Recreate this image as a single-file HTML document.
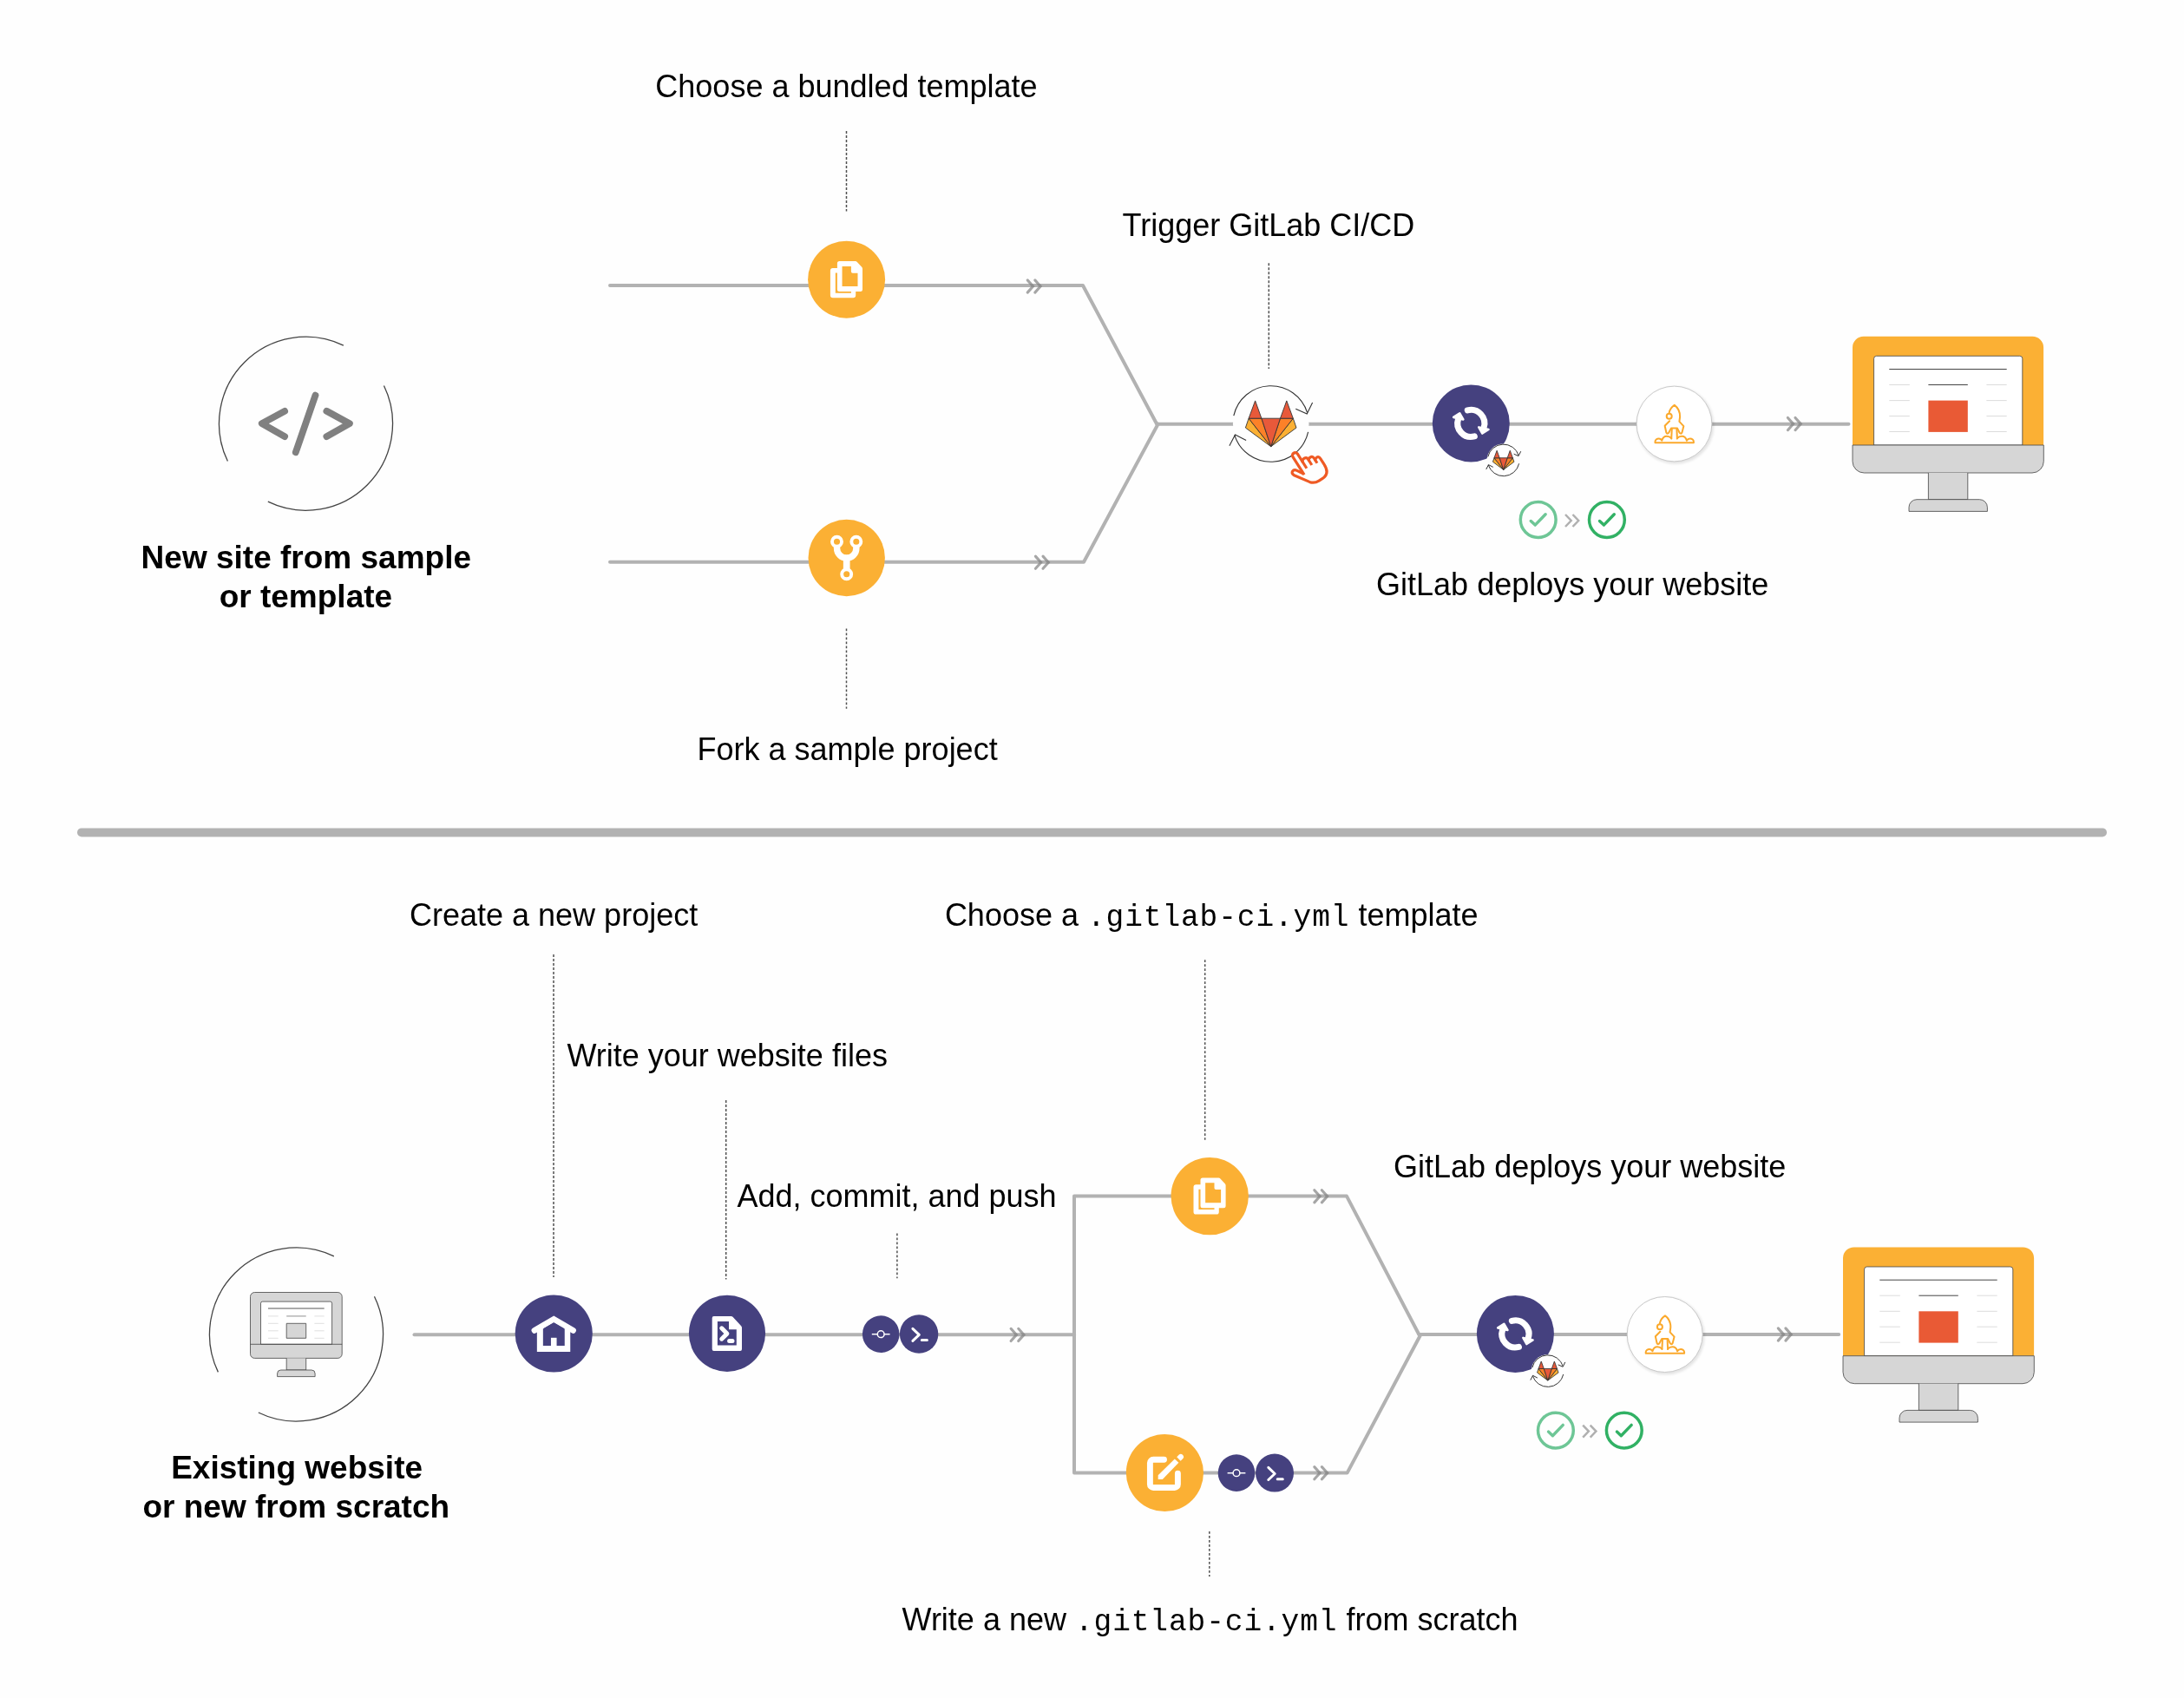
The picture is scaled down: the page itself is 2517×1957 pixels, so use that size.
<!DOCTYPE html>
<html><head><meta charset="utf-8"><title>GitLab Pages</title>
<style>html,body{margin:0;padding:0;background:#fefefe}body{width:2517px;height:1957px;overflow:hidden}svg{display:block}text{font-family:"Liberation Sans",sans-serif;fill:#000}.m{font-family:"Liberation Mono",monospace;font-size:34.5px;letter-spacing:0.9px}</style>
</head><body>
<svg width="2517" height="1957" viewBox="0 0 2517 1957">
<defs><filter id="blur" x="-20%" y="-20%" width="140%" height="140%"><feGaussianBlur stdDeviation="1.6"/></filter></defs>
<rect width="2517" height="1957" fill="#fefefe"/>
<line x1="94" y1="959.4" x2="2423" y2="959.4" stroke="#b2b2b2" stroke-width="10" stroke-linecap="round"/>
<g fill="none" stroke="#b2b2b2" stroke-width="4" stroke-linecap="round" stroke-linejoin="round">
<path d="M703,329 H1248 L1333.2,488.7"/>
<path d="M703,647.8 H1249 L1334.6,488.7"/>
<path d="M1333.5,488.7 H2130.5"/>
</g>
<g fill="none" stroke="#808080" stroke-opacity="0.7" stroke-width="3.1" stroke-linecap="round" stroke-linejoin="miter"><path d="M1192.8,322.9 L1199.1,330.0 L1192.8,337.1"/><path d="M1184.2,322.9 L1190.5,330.0 L1184.2,337.1"/></g>
<g fill="none" stroke="#808080" stroke-opacity="0.7" stroke-width="3.1" stroke-linecap="round" stroke-linejoin="miter"><path d="M1202.0,641.1 L1208.3,648.2 L1202.0,655.3"/><path d="M1193.4,641.1 L1199.7,648.2 L1193.4,655.3"/></g>
<g fill="none" stroke="#808080" stroke-opacity="0.7" stroke-width="3.1" stroke-linecap="round" stroke-linejoin="miter"><path d="M2069.0,481.5 L2075.3,488.6 L2069.0,495.7"/><path d="M2060.4,481.5 L2066.7,488.6 L2060.4,495.7"/></g>
<g transform="translate(975.6,322.2)"><circle r="44.5" fill="#fbb034"/><path fill="#fff" fill-rule="evenodd" d="M-15.8,-13.3 H7.7 a2.9,2.9 0 0 1 2.9,2.9 V18.1 a2.9,2.9 0 0 1 -2.9,2.9 H-15.8 a2.9,2.9 0 0 1 -2.9,-2.9 V-10.4 a2.9,2.9 0 0 1 2.9,-2.9 Z M-12.8,-7.8 H5.3 V15.5 H-12.8 Z"/><path fill="#fbb034" d="M-6,-16.3 H13.9 V8.7 H-6 Z"/><path fill="#fff" fill-rule="evenodd" d="M-8.2,-21.1 H10.2 Q11.4,-21.1 12.2,-20.2 L17.6,-14.4 Q18.4,-13.5 18.4,-12.3 V11.2 a2.5,2.5 0 0 1 -2.5,2.5 H-8.2 a2.5,2.5 0 0 1 -2.5,-2.5 V-18.6 a2.5,2.5 0 0 1 2.5,-2.5 Z M-5.05,-15.3 H5.3 V-9.3 Q5.3,-7.5 7.1,-7.5 H12.9 V7.7 H-5.05 Z"/></g>
<g transform="translate(975.7,643)"><circle r="44.2" fill="#fbb034"/><g fill="none" stroke="#fff" stroke-width="7.4"><path d="M-11.15,-16 V-11.1 A11.15,11.15 0 0 0 11.15,-11.1 V-16"/><path d="M0,-1 V14" stroke-width="7.7"/></g><circle cx="-11.2" cy="-18.8" r="5.5" fill="#fbb034" stroke="#fff" stroke-width="3.9"/><circle cx="11.1" cy="-18.8" r="5.5" fill="#fbb034" stroke="#fff" stroke-width="3.9"/><circle cx="0" cy="18.7" r="5.5" fill="#fbb034" stroke="#fff" stroke-width="3.9"/></g>
<g transform="translate(1464.7,488.5) scale(1.0)"><circle r="43.8" fill="#fefefe"/><g fill="none" stroke="#333" stroke-width="1.10"><path d="M-42.9,-9.3 A43.9,43.9 0 0 1 41.9,-12.9"/><path d="M28.55,-17.15 L41.55,-11.5 L47.9,-24.4"/><path d="M42.9,9.3 A43.9,43.9 0 0 1 -41.9,12.9"/><path d="M-28.55,19.1 L-41.2,12.5 L-47.8,25.25"/></g></g>
<g transform="translate(1464.7,488.5) scale(1.0)" stroke="#333" stroke-width="0.90" stroke-linejoin="round"><path fill="#fbb034" d="M-25.6,-6.3 L-29.3,4.5 L0,26.2 Z"/><path fill="#fbb034" d="M25.6,-6.3 L29.3,4.5 L0,26.2 Z"/><path fill="#fc8128" d="M-25.6,-6.3 L-10.8,-6.3 L0,26.2 Z"/><path fill="#fc8128" d="M25.6,-6.3 L10.8,-6.3 L0,26.2 Z"/><path fill="#e8593a" d="M-10.8,-6.3 L10.8,-6.3 L0,26.2 Z"/><path fill="#e8593a" d="M-18.1,-26.6 L-25.6,-6.3 L-10.8,-6.3 Z"/><path fill="#e8593a" d="M18.1,-26.6 L25.6,-6.3 L10.8,-6.3 Z"/></g>
<g transform="translate(1492.7,524.9) rotate(-32.4)" fill="none" stroke="#ef5a24" stroke-width="3.2" stroke-linejoin="round"><path d="M-3.2,24.4 V0 A3.2,3.2 0 0 1 3.2,0 V19.6"/><path d="M3.2,11.4 Q3.2,8.4 6.7,8.4 Q10.2,8.4 10.2,11.6 V19.6"/><path d="M10.2,14 Q10.2,11.1 13.4,11.1 Q16.6,11.1 16.6,14.4 V21"/><path d="M16.6,18 Q16.6,15.2 19.6,15.2 Q22.6,15.2 22.6,19 V26.5 Q22.6,39.3 12.5,39.3 H7.5 Q1,39.3 -2.4,34.6 L-13.3,18.6 Q-15.2,15.3 -12.3,13.7 Q-9.6,12.4 -7.6,15.8 L-3.2,23"/></g>
<g transform="translate(1695.3,487.9)"><circle r="44.5" fill="#45417f"/><g fill="none" stroke="#fff" stroke-width="7.1" stroke-linecap="round"><path d="M-4.02,-15.02 A15.55,15.55 0 0 1 14.70,5.06"/><path d="M4.02,15.02 A15.55,15.55 0 0 1 -14.70,-5.06"/></g><g fill="#fff" stroke="#fff" stroke-width="2.6" stroke-linejoin="round"><path d="M8.98,4.52 L20.14,7.02 L13.04,11.62 Z"/><path d="M-8.98,-4.52 L-20.14,-7.02 L-13.04,-11.62 Z"/></g></g>
<g transform="translate(1732.7,530.4) scale(0.418)"><circle r="45.5" fill="#fefefe"/><g fill="none" stroke="#333" stroke-width="2.39"><path d="M-42.9,-9.3 A43.9,43.9 0 0 1 41.9,-12.9"/><path d="M28.55,-17.15 L41.55,-11.5 L47.9,-24.4"/><path d="M42.9,9.3 A43.9,43.9 0 0 1 -41.9,12.9"/><path d="M-28.55,19.1 L-41.2,12.5 L-47.8,25.25"/></g></g>
<g transform="translate(1732.7,530.4) scale(0.418)" stroke="#333" stroke-width="2.03" stroke-linejoin="round"><path fill="#fbb034" d="M-25.6,-6.3 L-29.3,4.5 L0,26.2 Z"/><path fill="#fbb034" d="M25.6,-6.3 L29.3,4.5 L0,26.2 Z"/><path fill="#fc8128" d="M-25.6,-6.3 L-10.8,-6.3 L0,26.2 Z"/><path fill="#fc8128" d="M25.6,-6.3 L10.8,-6.3 L0,26.2 Z"/><path fill="#e8593a" d="M-10.8,-6.3 L10.8,-6.3 L0,26.2 Z"/><path fill="#e8593a" d="M-18.1,-26.6 L-25.6,-6.3 L-10.8,-6.3 Z"/><path fill="#e8593a" d="M18.1,-26.6 L25.6,-6.3 L10.8,-6.3 Z"/></g>
<g transform="translate(1929.5,488.5)"><circle r="44.6" cx="1.2" cy="1.6" fill="#000" opacity="0.10" filter="url(#blur)"/><circle r="43.4" fill="#fff" stroke="#c9c9c9" stroke-width="1"/><g fill="none" stroke="#fba92c" stroke-width="2" stroke-linecap="round" stroke-linejoin="round"><path d="M-5.8,-12.9 C-5.2,-17 -2.5,-19.6 0.25,-21.6 C4,-18.8 6.8,-14 6.6,-8 L5.9,-2.65 L10.85,2.65 L8.9,10.2 Q8.4,11.4 7.2,11.1 Q6.4,11 6,10 L3.6,5.1 H-3.6 L-6.2,10 Q-6.6,11 -7.4,11.1 Q-8.6,11.4 -9.1,10.2 L-10.85,2.3 L-5.4,-3.2"/><circle cx="-5.8" cy="-8.8" r="3"/><path d="M-2.7,5.5 L-3.3,17.1"/><path d="M2.9,5.5 L3.4,17.1"/><path d="M-3.3,16.6 C-5,14.6 -7,14.2 -8.6,14.2 C-11.5,14.2 -13.5,16.5 -14.2,19.3 C-15,17.6 -16.3,17 -17.8,17 C-20,17 -22,18.8 -22,20.5 V21.7 H22.4 V20.5 C22.4,18.8 20.5,17 18.3,17 C16.7,17 15.3,17.6 14.4,19.3 C13.7,16.5 11.7,14.2 8.7,14.2 C7.1,14.2 5.1,14.6 3.4,16.6"/></g></g>
<g transform="translate(2135,387.7)" stroke-linejoin="round"><path fill="#fbb034" d="M0,125.3 V12.7 a12.7,12.7 0 0 1 12.7,-12.7 H207.4 a12.7,12.7 0 0 1 12.7,12.7 V125.3 Z"/><path fill="#fff" stroke="#444" stroke-width="0.8" d="M24.6,125.3 V25.6 a3,3 0 0 1 3,-3 H192.8 a3,3 0 0 1 3,3 V125.3 Z"/><path fill="#d6d6d6" stroke="#444" stroke-width="0.8" d="M0,125.3 H220.3 V144 a13.3,13.3 0 0 1 -13.3,13.3 H13.3 a13.3,13.3 0 0 1 -13.3,-13.3 Z"/><path fill="#d6d6d6" stroke="#444" stroke-width="0.8" d="M87.4,157.3 V188 H132.8 V157.3"/><path fill="#d6d6d6" stroke="#444" stroke-width="0.8" d="M65,201.7 V197 a9,9 0 0 1 9,-9 H146.4 a9,9 0 0 1 9,9 V201.7 Z"/><path stroke="#444" stroke-width="1" d="M42.3,37.8 H177.7 M87.4,55.8 H132.8"/><path stroke="#d8d8d8" stroke-width="0.9" d="M42.3,55.8 H65.8 M154.4,55.8 H177.7 M42.3,73.9 H65.8 M154.4,73.9 H177.7 M42.3,91.8 H65.8 M154.4,91.8 H177.7 M42.3,109.8 H65.8 M154.4,109.8 H177.7 "/><rect x="87.4" y="73.9" width="45.4" height="36.3" fill="#e95a35"/></g>
<g transform="translate(1772.7,599)" fill="none" stroke="#6ec696" stroke-linecap="round" stroke-linejoin="round"><circle r="20.4" stroke-width="3.5"/><path stroke-width="3.4" d="M-8.4,1.5 L-3.5,6.1 L8.4,-6.2"/></g>
<g fill="none" stroke="#b0b0b0" stroke-width="2.5" stroke-linejoin="miter"><path d="M1804.0,593.0 L1810.7,600.0 L1804.0,607.0"/><path d="M1812.5,593.0 L1819.2,600.0 L1812.5,607.0"/></g>
<g transform="translate(1851.9,599)" fill="none" stroke="#31b164" stroke-linecap="round" stroke-linejoin="round"><circle r="20.4" stroke-width="3.5"/><path stroke-width="3.4" d="M-8.4,1.5 L-3.5,6.1 L8.4,-6.2"/></g>
<g transform="translate(352.5,488.2)" fill="none" stroke="#444" stroke-width="1.3"><path d="M43.37,-90.11 A100,100 0 0 0 -90.11,43.37"/><path d="M89.96,-43.68 A100,100 0 0 1 -43.68,89.96"/></g>
<g fill="none" stroke="#808080" stroke-width="7.8" stroke-linecap="round" stroke-linejoin="round"><path d="M328.1,473.8 L301.8,488.2 L328.1,503.1"/><path d="M363.5,455.6 L340.8,521.3"/><path d="M376.4,473.8 L402.9,488.2 L376.4,503.1"/></g>
<line x1="975.5" y1="151" x2="975.5" y2="243.6" stroke="#505050" stroke-width="1.5" stroke-dasharray="2.9 2.1"/>
<line x1="975.5" y1="724.4" x2="975.5" y2="816.7" stroke="#505050" stroke-width="1.5" stroke-dasharray="2.9 2.1"/>
<line x1="1462.3" y1="303.3" x2="1462.3" y2="425.1" stroke="#505050" stroke-width="1.5" stroke-dasharray="2.9 2.1"/>
<text opacity="0.999" x="975.5" y="111.6" font-size="36" text-anchor="middle">Choose a bundled template</text>
<text opacity="0.999" x="1461.9" y="271.7" font-size="36" text-anchor="middle">Trigger GitLab CI/CD</text>
<text opacity="0.999" x="1812.2" y="686.1" font-size="36" text-anchor="middle">GitLab deploys your website</text>
<text opacity="0.999" x="976.6" y="876.4" font-size="36" text-anchor="middle">Fork a sample project</text>
<text opacity="0.999" x="352.8" y="655.2" font-size="37" text-anchor="middle" font-weight="bold">New site from sample</text>
<text opacity="0.999" x="352.4" y="699.8" font-size="37" text-anchor="middle" font-weight="bold">or template</text>
<g fill="none" stroke="#b2b2b2" stroke-width="4" stroke-linecap="round" stroke-linejoin="round">
<path d="M477.5,1538.2 H1238"/>
<path d="M1635.3,1538 L1552,1378.6 H1238 V1697.4 H1552.7 L1637.4,1538"/>
<path d="M1635.5,1538 H2119.2"/>
</g>
<g fill="none" stroke="#808080" stroke-opacity="0.7" stroke-width="3.1" stroke-linecap="round" stroke-linejoin="miter"><path d="M1173.7,1531.3 L1180.0,1538.4 L1173.7,1545.5"/><path d="M1165.1,1531.3 L1171.4,1538.4 L1165.1,1545.5"/></g>
<g fill="none" stroke="#808080" stroke-opacity="0.7" stroke-width="3.1" stroke-linecap="round" stroke-linejoin="miter"><path d="M1523.4,1371.7 L1529.7,1378.8 L1523.4,1385.9"/><path d="M1514.8,1371.7 L1521.1,1378.8 L1514.8,1385.9"/></g>
<g fill="none" stroke="#808080" stroke-opacity="0.7" stroke-width="3.1" stroke-linecap="round" stroke-linejoin="miter"><path d="M1523.4,1690.6 L1529.7,1697.7 L1523.4,1704.8"/><path d="M1514.8,1690.6 L1521.1,1697.7 L1514.8,1704.8"/></g>
<g fill="none" stroke="#808080" stroke-opacity="0.7" stroke-width="3.1" stroke-linecap="round" stroke-linejoin="miter"><path d="M2057.9,1530.9 L2064.2,1538.0 L2057.9,1545.1"/><path d="M2049.3,1530.9 L2055.6,1538.0 L2049.3,1545.1"/></g>
<g transform="translate(341.5,1538)" fill="none" stroke="#444" stroke-width="1.3"><path d="M43.37,-90.11 A100,100 0 0 0 -90.11,43.37"/><path d="M89.96,-43.68 A100,100 0 0 1 -43.68,89.96"/></g>
<g transform="translate(341.5,1538)" stroke="#444" stroke-width="0.8" stroke-linejoin="round"><rect x="-53" y="-48.5" width="105.7" height="75.9" rx="5" fill="#d6d6d6"/><path fill="#fff" d="M-41,11.3 V-35.9 a2,2 0 0 1 2,-2 H39.1 a2,2 0 0 1 2,2 V11.3 Z"/><path fill="none" d="M-53,11.3 H52.7"/><path fill="#d6d6d6" d="M-11.3,27.4 V41 H11.2 V27.4"/><path fill="#d6d6d6" d="M-21.9,48.6 V45 a4,4 0 0 1 4,-4 H17.6 a4,4 0 0 1 4,4 V48.6 Z"/><path fill="none" stroke-width="0.9" d="M-32.5,-30 H32.2"/><path fill="none" stroke="#999" stroke-width="1.1" d="M-11.3,-21.1 H11.2"/><path fill="none" stroke="#d8d8d8" stroke-width="0.8" d="M-32.5,-21.1 H-20.8 M20.9,-21.1 H32.2 M-32.5,-12.7 H-20.8 M20.9,-12.7 H32.2 M-32.5,-4.2 H-20.8 M20.9,-4.2 H32.2 M-32.5,4.3 H-20.8 M20.9,4.3 H32.2 "/><rect x="-11.3" y="-12.7" width="22.5" height="17" fill="#d6d6d6"/></g>
<g transform="translate(638.25,1537)"><circle r="44.6" fill="#45417f"/><path fill="#fff" d="M-19.4,-6 H19 V20.95 H-19.4 Z"/><path fill="none" stroke="#fff" stroke-width="6.8" stroke-linecap="round" stroke-linejoin="miter" d="M-22.3,-3.6 L0,-16.6 L22.3,-3.6"/><path fill="#45417f" d="M-12.4,14.1 V-5.44 L0,-12.67 L12.5,-5.38 V14.1 Z"/><rect x="-3.3" y="4.8" width="6.6" height="9.8" fill="#fff"/></g>
<g transform="translate(838,1536.8)"><circle r="44.1" fill="#45417f"/><path fill="#fff" fill-rule="evenodd" d="M-15.3,-19.9 H4.6 Q5.7,-19.9 6.5,-19.1 L16.2,-8.6 Q17,-7.7 17,-6.6 V18.2 a2,2 0 0 1 -2,2 H-15.3 a2,2 0 0 1 -2,-2 V-17.9 a2,2 0 0 1 2,-2 Z M-11.1,-13.8 H2.05 V-4.5 H10.8 V13.8 H-11.1 Z"/><path fill="none" stroke="#fff" stroke-width="5" stroke-linecap="round" stroke-linejoin="round" d="M-6.3,-6 L-0.15,0.3 L-6.3,6.4 M2.6,8.6 H6"/></g>
<g transform="translate(1015.2,1537.6)"><circle r="21.3" fill="#45417f"/><path stroke="#fff" stroke-width="1.5" d="M-10.4,0.1 H10.4"/><circle cy="0.1" r="3.9" fill="#45417f" stroke="#fff" stroke-width="1.5"/></g>
<g transform="translate(1059.1,1537.5)"><circle r="22.2" fill="#45417f"/><path fill="none" stroke="#fff" stroke-width="3" stroke-linecap="round" stroke-linejoin="round" d="M-7.2,-6.2 L0.2,0.9 L-7.2,7.9 M3.2,7.1 H9.3"/></g>
<g transform="translate(1394.2,1378.6)"><circle r="44.7" fill="#fbb034"/><path fill="#fff" fill-rule="evenodd" d="M-15.8,-13.3 H7.7 a2.9,2.9 0 0 1 2.9,2.9 V18.1 a2.9,2.9 0 0 1 -2.9,2.9 H-15.8 a2.9,2.9 0 0 1 -2.9,-2.9 V-10.4 a2.9,2.9 0 0 1 2.9,-2.9 Z M-12.8,-7.8 H5.3 V15.5 H-12.8 Z"/><path fill="#fbb034" d="M-6,-16.3 H13.9 V8.7 H-6 Z"/><path fill="#fff" fill-rule="evenodd" d="M-8.2,-21.1 H10.2 Q11.4,-21.1 12.2,-20.2 L17.6,-14.4 Q18.4,-13.5 18.4,-12.3 V11.2 a2.5,2.5 0 0 1 -2.5,2.5 H-8.2 a2.5,2.5 0 0 1 -2.5,-2.5 V-18.6 a2.5,2.5 0 0 1 2.5,-2.5 Z M-5.05,-15.3 H5.3 V-9.3 Q5.3,-7.5 7.1,-7.5 H12.9 V7.7 H-5.05 Z"/></g>
<g transform="translate(1342.4,1697.5)"><circle r="44.6" fill="#fbb034"/><path fill="none" stroke="#fff" stroke-width="6.9" stroke-linecap="round" d="M-0.9,-15.2 H-13.2 a3.8,3.8 0 0 0 -3.8,3.8 V13.2 a3.8,3.8 0 0 0 3.8,3.8 H11.2 a3.8,3.8 0 0 0 3.8,-3.8 V0.7"/><path fill="#fff" d="M-7.7,2.85 L11.4,-16.1 L16,-11.7 L-2.6,7.4 H-7.7 Z"/><path fill="#fff" d="M13.8,-18.3 L16.2,-20.7 A3.15,3.15 0 0 1 20.6,-20.7 L20.7,-20.6 A3.15,3.15 0 0 1 20.7,-16.2 L18.2,-13.7 Z"/></g>
<g transform="translate(1425,1697.6)"><circle r="21.3" fill="#45417f"/><path stroke="#fff" stroke-width="1.5" d="M-10.4,0.1 H10.4"/><circle cy="0.1" r="3.9" fill="#45417f" stroke="#fff" stroke-width="1.5"/></g>
<g transform="translate(1469,1697.6)"><circle r="22" fill="#45417f"/><path fill="none" stroke="#fff" stroke-width="3" stroke-linecap="round" stroke-linejoin="round" d="M-7.2,-6.2 L0.2,0.9 L-7.2,7.9 M3.2,7.1 H9.3"/></g>
<g transform="translate(1746.4,1537.4)"><circle r="44.5" fill="#45417f"/><g fill="none" stroke="#fff" stroke-width="7.1" stroke-linecap="round"><path d="M-4.02,-15.02 A15.55,15.55 0 0 1 14.70,5.06"/><path d="M4.02,15.02 A15.55,15.55 0 0 1 -14.70,-5.06"/></g><g fill="#fff" stroke="#fff" stroke-width="2.6" stroke-linejoin="round"><path d="M8.98,4.52 L20.14,7.02 L13.04,11.62 Z"/><path d="M-8.98,-4.52 L-20.14,-7.02 L-13.04,-11.62 Z"/></g></g>
<g transform="translate(1783.8,1580.1) scale(0.418)"><circle r="45.5" fill="#fefefe"/><g fill="none" stroke="#333" stroke-width="2.39"><path d="M-42.9,-9.3 A43.9,43.9 0 0 1 41.9,-12.9"/><path d="M28.55,-17.15 L41.55,-11.5 L47.9,-24.4"/><path d="M42.9,9.3 A43.9,43.9 0 0 1 -41.9,12.9"/><path d="M-28.55,19.1 L-41.2,12.5 L-47.8,25.25"/></g></g>
<g transform="translate(1783.8,1580.1) scale(0.418)" stroke="#333" stroke-width="2.03" stroke-linejoin="round"><path fill="#fbb034" d="M-25.6,-6.3 L-29.3,4.5 L0,26.2 Z"/><path fill="#fbb034" d="M25.6,-6.3 L29.3,4.5 L0,26.2 Z"/><path fill="#fc8128" d="M-25.6,-6.3 L-10.8,-6.3 L0,26.2 Z"/><path fill="#fc8128" d="M25.6,-6.3 L10.8,-6.3 L0,26.2 Z"/><path fill="#e8593a" d="M-10.8,-6.3 L10.8,-6.3 L0,26.2 Z"/><path fill="#e8593a" d="M-18.1,-26.6 L-25.6,-6.3 L-10.8,-6.3 Z"/><path fill="#e8593a" d="M18.1,-26.6 L25.6,-6.3 L10.8,-6.3 Z"/></g>
<g transform="translate(1918.7,1538)"><circle r="44.7" cx="1.2" cy="1.6" fill="#000" opacity="0.10" filter="url(#blur)"/><circle r="43.5" fill="#fff" stroke="#c9c9c9" stroke-width="1"/><g fill="none" stroke="#fba92c" stroke-width="2" stroke-linecap="round" stroke-linejoin="round"><path d="M-5.8,-12.9 C-5.2,-17 -2.5,-19.6 0.25,-21.6 C4,-18.8 6.8,-14 6.6,-8 L5.9,-2.65 L10.85,2.65 L8.9,10.2 Q8.4,11.4 7.2,11.1 Q6.4,11 6,10 L3.6,5.1 H-3.6 L-6.2,10 Q-6.6,11 -7.4,11.1 Q-8.6,11.4 -9.1,10.2 L-10.85,2.3 L-5.4,-3.2"/><circle cx="-5.8" cy="-8.8" r="3"/><path d="M-2.7,5.5 L-3.3,17.1"/><path d="M2.9,5.5 L3.4,17.1"/><path d="M-3.3,16.6 C-5,14.6 -7,14.2 -8.6,14.2 C-11.5,14.2 -13.5,16.5 -14.2,19.3 C-15,17.6 -16.3,17 -17.8,17 C-20,17 -22,18.8 -22,20.5 V21.7 H22.4 V20.5 C22.4,18.8 20.5,17 18.3,17 C16.7,17 15.3,17.6 14.4,19.3 C13.7,16.5 11.7,14.2 8.7,14.2 C7.1,14.2 5.1,14.6 3.4,16.6"/></g></g>
<g transform="translate(2124,1437.4)" stroke-linejoin="round"><path fill="#fbb034" d="M0,125.3 V12.7 a12.7,12.7 0 0 1 12.7,-12.7 H207.4 a12.7,12.7 0 0 1 12.7,12.7 V125.3 Z"/><path fill="#fff" stroke="#444" stroke-width="0.8" d="M24.6,125.3 V25.6 a3,3 0 0 1 3,-3 H192.8 a3,3 0 0 1 3,3 V125.3 Z"/><path fill="#d6d6d6" stroke="#444" stroke-width="0.8" d="M0,125.3 H220.3 V144 a13.3,13.3 0 0 1 -13.3,13.3 H13.3 a13.3,13.3 0 0 1 -13.3,-13.3 Z"/><path fill="#d6d6d6" stroke="#444" stroke-width="0.8" d="M87.4,157.3 V188 H132.8 V157.3"/><path fill="#d6d6d6" stroke="#444" stroke-width="0.8" d="M65,201.7 V197 a9,9 0 0 1 9,-9 H146.4 a9,9 0 0 1 9,9 V201.7 Z"/><path stroke="#444" stroke-width="1" d="M42.3,37.8 H177.7 M87.4,55.8 H132.8"/><path stroke="#d8d8d8" stroke-width="0.9" d="M42.3,55.8 H65.8 M154.4,55.8 H177.7 M42.3,73.9 H65.8 M154.4,73.9 H177.7 M42.3,91.8 H65.8 M154.4,91.8 H177.7 M42.3,109.8 H65.8 M154.4,109.8 H177.7 "/><rect x="87.4" y="73.9" width="45.4" height="36.3" fill="#e95a35"/></g>
<g transform="translate(1792.9,1648.6)" fill="none" stroke="#6ec696" stroke-linecap="round" stroke-linejoin="round"><circle r="20.4" stroke-width="3.5"/><path stroke-width="3.4" d="M-8.4,1.5 L-3.5,6.1 L8.4,-6.2"/></g>
<g fill="none" stroke="#b0b0b0" stroke-width="2.5" stroke-linejoin="miter"><path d="M1824.2,1642.6 L1830.9,1649.6 L1824.2,1656.6"/><path d="M1832.7,1642.6 L1839.4,1649.6 L1832.7,1656.6"/></g>
<g transform="translate(1871.8,1648.6)" fill="none" stroke="#31b164" stroke-linecap="round" stroke-linejoin="round"><circle r="20.4" stroke-width="3.5"/><path stroke-width="3.4" d="M-8.4,1.5 L-3.5,6.1 L8.4,-6.2"/></g>
<line x1="638" y1="1100" x2="638" y2="1472" stroke="#505050" stroke-width="1.5" stroke-dasharray="2.9 2.1"/>
<line x1="836.7" y1="1268" x2="836.7" y2="1474.4" stroke="#505050" stroke-width="1.5" stroke-dasharray="2.9 2.1"/>
<line x1="1033.9" y1="1421.4" x2="1033.9" y2="1473.3" stroke="#505050" stroke-width="1.5" stroke-dasharray="2.9 2.1"/>
<line x1="1388.7" y1="1106.2" x2="1388.7" y2="1313.8" stroke="#505050" stroke-width="1.5" stroke-dasharray="2.9 2.1"/>
<line x1="1393.8" y1="1764.9" x2="1393.8" y2="1817" stroke="#505050" stroke-width="1.5" stroke-dasharray="2.9 2.1"/>
<text opacity="0.999" x="638.1" y="1066.9" font-size="36" text-anchor="middle">Create a new project</text>
<text opacity="0.999" x="838.2" y="1228.8" font-size="36" text-anchor="middle">Write your website files</text>
<text opacity="0.999" x="1033.5" y="1390.6" font-size="36" text-anchor="middle">Add, commit, and push</text>
<text opacity="0.999" x="1832.2" y="1356.8" font-size="36" text-anchor="middle">GitLab deploys your website</text>
<text opacity="0.999" x="342.1" y="1704" font-size="37" text-anchor="middle" font-weight="bold">Existing website</text>
<text opacity="0.999" x="341.3" y="1748.6" font-size="37" text-anchor="middle" font-weight="bold">or new from scratch</text>
<text opacity="0.999" x="1396.2" y="1066.8" font-size="36" text-anchor="middle" style="white-space:pre">Choose a <tspan class="m">.gitlab-ci.yml</tspan> template</text>
<text opacity="0.999" x="1394.5" y="1878.7" font-size="36" text-anchor="middle" style="white-space:pre">Write a new <tspan class="m">.gitlab-ci.yml</tspan> from scratch</text>
</svg></body></html>
